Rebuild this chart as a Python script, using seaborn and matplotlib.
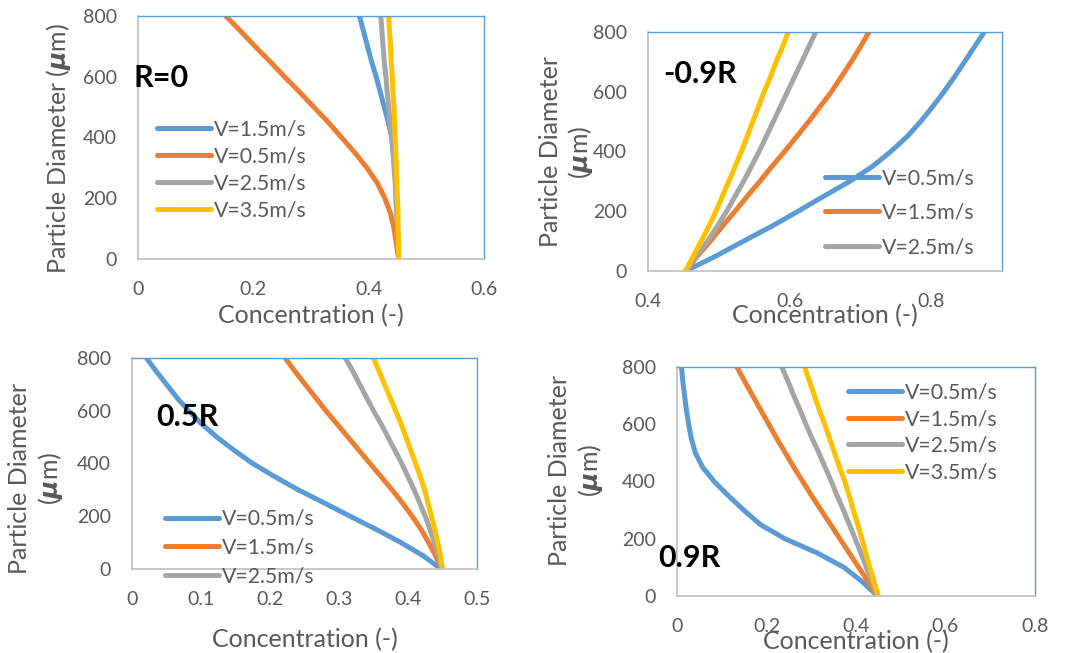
import matplotlib
matplotlib.use("Agg")
import matplotlib.pyplot as plt
import seaborn as sns
import pandas as pd

sns.set_theme(style="white")
plt.rcParams["font.family"] = ["Lato", "DejaVu Sans"]
plt.rcParams["mathtext.fontset"] = "dejavusans"

# ---------------- data ----------------
diameters = [0, 50, 100, 150, 200, 250, 300, 350, 400, 450, 500, 550, 600, 650, 700, 750, 800]

# Panel R=0
r0_labels = ["V=1.5m/s", "V=0.5m/s", "V=2.5m/s", "V=3.5m/s"]
r0_v15 = [.452, .451, .450, .449, .448, .447, .446, .443, .440, .434, .427, .420, .413, .405, .398, .391, .384]
r0_v05 = [.452, .448, .444, .438, .428, .415, .397, .376, .353, .330, .305, .280, .254, .229, .203, .178, .152]
r0_v25 = [.452, .451, .450, .449, .447, .446, .444, .442, .440, .437, .435, .432, .430, .427, .425, .423, .421]
r0_v35 = [.452, .452, .451, .451, .450, .449, .448, .447, .446, .445, .444, .442, .441, .439, .438, .436, .435]

# Panel -0.9R
m09_labels = ["V=0.5m/s", "V=1.5m/s", "V=2.5m/s", "V=3.5m/s"]
m09_v05 = [.453, .496, .535, .575, .612, .648, .685, .717, .743, .766, .785, .802, .818, .833, .847, .861, .875]
m09_v15 = [.453, .470, .488, .505, .523, .540, .558, .575, .593, .610, .627, .643, .659, .673, .687, .700, .712]
m09_v25 = [.453, .469, .484, .498, .511, .523, .535, .546, .557, .567, .577, .587, .597, .607, .617, .627, .637]
m09_v35 = [.453, .464, .475, .486, .496, .505, .514, .523, .532, .540, .548, .556, .564, .573, .581, .590, .598]

# Panel 0.5R
p05_labels = ["V=0.5m/s", "V=1.5m/s", "V=2.5m/s", "V=3.5m/s"]
p05_v05 = [.448, .422, .390, .354, .316, .279, .241, .207, .175, .148, .123, .101, .082, .065, .050, .035, .021]
p05_v15 = [.449, .440, .430, .419, .406, .392, .377, .361, .345, .329, .313, .297, .281, .266, .251, .236, .222]
p05_v25 = [.449, .444, .438, .432, .425, .417, .409, .400, .391, .381, .371, .361, .350, .340, .330, .320, .309]
p05_v35 = [.450, .447, .443, .439, .434, .429, .424, .418, .411, .404, .397, .390, .382, .374, .366, .358, .350]

# Panel 0.9R
p09_labels = ["V=0.5m/s", "V=1.5m/s", "V=2.5m/s", "V=3.5m/s"]
p09_v05 = [.448, .414, .373, .314, .241, .186, .149, .115, .083, .057, .041, .032, .026, .021, .017, .013, .010]
p09_v15 = [.448, .427, .406, .385, .364, .343, .322, .301, .281, .261, .242, .223, .205, .187, .169, .151, .134]
p09_v25 = [.448, .436, .423, .411, .398, .385, .372, .358, .345, .331, .317, .302, .288, .275, .261, .248, .234]
p09_v35 = [.450, .440, .431, .422, .413, .404, .394, .385, .375, .363, .352, .341, .330, .318, .307, .296, .285]

colors = ["#5B9BD5", "#ED7D31", "#A5A5A5", "#FFC000"]
TXT = "#595959"
TICK_FS = 14
LAB_FS = 18
LEG_FS = 15.3

W, H = 1065, 653
fig = plt.figure(figsize=(W / 100, H / 100), dpi=100)


def make_ax(l, r, t, b):
    return fig.add_axes([l / W, 1 - b / H, (r - l) / W, (b - t) / H])


MU = "$\\mathbfit{\\mu}$"

panels = [
    dict(box=(138, 484, 16, 259), labels=r0_labels, vals=[r0_v15, r0_v05, r0_v25, r0_v35],
         xlim=(0, 0.6), xticks=[0, 0.2, 0.4, 0.6], xtl=["0", "0.2", "0.4", "0.6"],
         tag="R=0", tagpos=(-0.014, 0.745), tagfs=22,
         ylab="Particle Diameter ({}m)", ylabpos=(-0.231, 0.453),
         xlabpos=-0.232, nleg=4, legpos=(0.055, 0.366), legsp=0.32),
    dict(box=(648, 1002, 32, 271), labels=m09_labels, vals=[m09_v05, m09_v15, m09_v25, m09_v35],
         xlim=(0.4, 0.9), xticks=[0.4, 0.6, 0.8], xtl=["0.4", "0.6", "0.8"],
         tag="-0.9R", tagpos=(0.042, 0.824), tagfs=22,
         ylab="Particle Diameter\n({}m)", ylabpos=(-0.229, 0.498),
         xlabpos=-0.186, nleg=3, legpos=(0.5, 0.243), legsp=0.7),
    dict(box=(132, 477, 358, 569), labels=p05_labels, vals=[p05_v05, p05_v15, p05_v25, p05_v35],
         xlim=(0, 0.5), xticks=[0, 0.1, 0.2, 0.3, 0.4, 0.5],
         xtl=["0", "0.1", "0.2", "0.3", "0.4", "0.5"],
         tag="0.5R", tagpos=(0.070, 0.72), tagfs=22,
         ylab="Particle Diameter\n({}m)", ylabpos=(-0.278, 0.431),
         xlabpos=-0.335, nleg=3, legpos=(0.096, 0.10), legsp=0.42),
    dict(box=(677, 1035, 367, 596), labels=p09_labels, vals=[p09_v05, p09_v15, p09_v25, p09_v35],
         xlim=(0, 0.8), xticks=[0, 0.2, 0.4, 0.6, 0.8], xtl=["0", "0.2", "0.4", "0.6", "0.8"],
         tag="0.9R", tagpos=(-0.053, 0.166), tagfs=22,
         ylab="Particle Diameter\n({}m)", ylabpos=(-0.281, 0.55),
         xlabpos=-0.200, nleg=4, legpos=(0.478, 0.714), legsp=0.32),
]

axes = []
for p in panels:
    ax = make_ax(*p["box"])
    axes.append(ax)
    rows = []
    for lab, v in zip(p["labels"], p["vals"]):
        for d, c in zip(diameters, v):
            rows.append({"series": lab, "d": d, "conc": c})
    df = pd.DataFrame(rows)
    sns.lineplot(data=df, x="conc", y="d", hue="series", hue_order=p["labels"],
                 palette=colors, sort=False, estimator=None, linewidth=3.6,
                 legend=False, ax=ax, solid_capstyle="round", solid_joinstyle="round")
    ax.set_xlim(*p["xlim"])
    ax.set_ylim(0, 800)
    ax.set_xticks(p["xticks"])
    ax.set_xticklabels(p["xtl"])
    ax.set_yticks([0, 200, 400, 600, 800])
    ax.set_yticklabels(["0", "200", "400", "600", "800"])
    ax.tick_params(axis="both", length=0, labelsize=TICK_FS, labelcolor=TXT)
    ax.tick_params(axis="y", pad=15)
    ax.tick_params(axis="x", pad=16)
    for s in ["top", "right"]:
        ax.spines[s].set_color("#5B9BD5")
        ax.spines[s].set_linewidth(1.0)
    for s in ["left", "bottom"]:
        ax.spines[s].set_color("#BFBFBF")
        ax.spines[s].set_linewidth(1.2)
    ax.set_xlabel("Concentration (-)", fontsize=LAB_FS, color=TXT)
    ax.xaxis.label.set_va("center")
    ax.xaxis.set_label_coords(0.5, p["xlabpos"])
    ax.set_ylabel(p["ylab"].format(MU), fontsize=LAB_FS, color=TXT, linespacing=1.22)
    ax.yaxis.label.set_va("center")
    ax.yaxis.set_label_coords(*p["ylabpos"])
    ax.text(p["tagpos"][0], p["tagpos"][1], p["tag"], transform=ax.transAxes,
            fontsize=p["tagfs"], fontweight="bold", color="black",
            ha="left", va="center", zorder=5)
    n = p["nleg"]
    ax.legend(handles=ax.lines[:n], labels=p["labels"][:n], loc="center left",
              bbox_to_anchor=p["legpos"], frameon=False, fontsize=LEG_FS,
              handlelength=2.55, handletextpad=0.12, labelspacing=p["legsp"],
              borderpad=0, borderaxespad=0, labelcolor=TXT)

try:
    fig.canvas.draw()
except Exception:
    for ax, p in zip(axes, panels):
        ax.set_ylabel(p["ylab"].format("$\\mathbf{\\mu}$"), fontsize=LAB_FS,
                      color=TXT, linespacing=1.22)
        ax.yaxis.label.set_va("center")
        ax.yaxis.set_label_coords(*p["ylabpos"])

fig.savefig("out.png", dpi=100)
